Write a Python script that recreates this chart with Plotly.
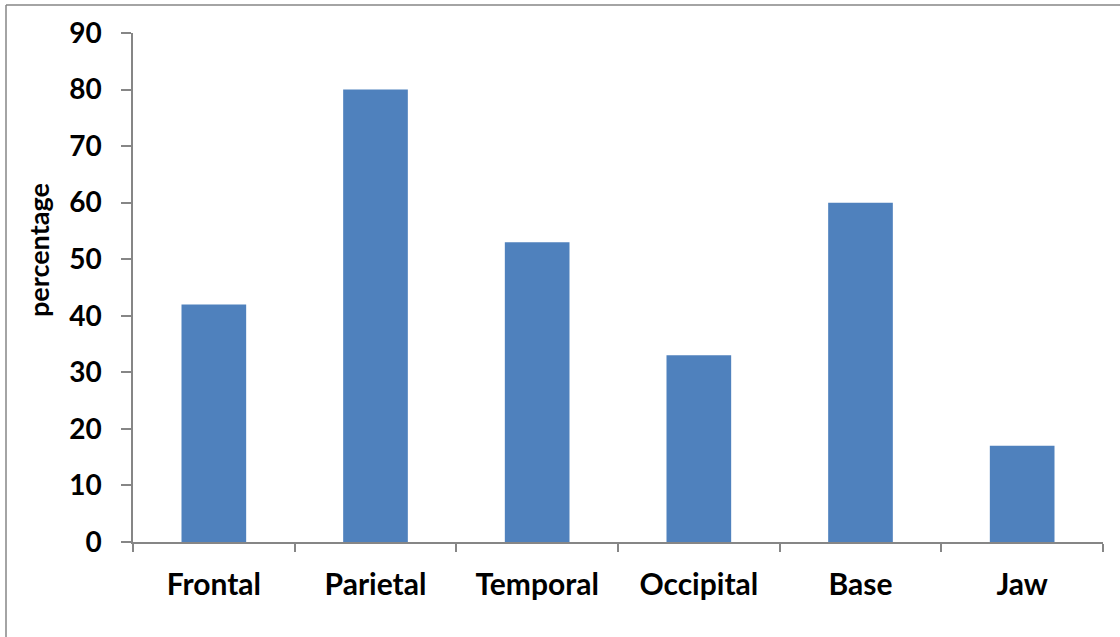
import plotly.graph_objects as go

regions = ["Frontal", "Parietal", "Temporal", "Occipital", "Base", "Jaw"]
percentages = [42, 80, 53, 33, 60, 17]

bar_color = "#4F81BD"
axis_gray = "#868686"
font_family = "Lato, Carlito, 'Open Sans', sans-serif"

fig = go.Figure(
    go.Bar(
        x=regions,
        y=percentages,
        marker=dict(color=bar_color, line=dict(width=0)),
    )
)

W, H = 1120, 637
left, right, top, bottom = 133, 17, 33, 95
pw = W - left - right
ph = H - top - bottom


def px_x(x):
    return (x - left) / pw


def px_y(y):
    return (H - bottom - y) / ph


fig.update_layout(
    width=W,
    height=H,
    margin=dict(l=left, r=right, t=top, b=bottom, pad=0),
    paper_bgcolor="white",
    plot_bgcolor="white",
    bargap=0.6,
    showlegend=False,
    font=dict(family=font_family, color="black"),
    xaxis=dict(
        type="category",
        showline=True,
        linecolor=axis_gray,
        linewidth=1.5,
        ticks="outside",
        tickson="boundaries",
        ticklen=8,
        tickcolor=axis_gray,
        tickwidth=1.5,
        showgrid=False,
        tickfont=dict(size=30, family=font_family, weight="bold"),
        ticklabelstandoff=15,
    ),
    yaxis=dict(
        range=[0, 90],
        tickvals=list(range(0, 91, 10)),
        showline=True,
        linecolor=axis_gray,
        linewidth=1.5,
        ticks="outside",
        ticklen=10,
        tickcolor=axis_gray,
        tickwidth=1.5,
        showgrid=False,
        zeroline=False,
        tickfont=dict(size=28, family=font_family, weight="bold"),
        ticklabelstandoff=14,
    ),
    annotations=[
        dict(
            text="percentage",
            textangle=-90,
            xref="paper",
            yref="paper",
            x=px_x(38),
            y=px_y(250),
            xanchor="center",
            yanchor="middle",
            showarrow=False,
            font=dict(size=27, family=font_family, weight="bold", color="black"),
        )
    ],
    shapes=[
        dict(type="line", xref="paper", yref="paper",
             x0=px_x(6), y0=px_y(5), x1=px_x(1130), y1=px_y(5),
             line=dict(color=axis_gray, width=1.5)),
        dict(type="line", xref="paper", yref="paper",
             x0=px_x(6), y0=px_y(5), x1=px_x(6), y1=px_y(650),
             line=dict(color=axis_gray, width=1.5)),
    ],
)

fig.write_html("out.html")
